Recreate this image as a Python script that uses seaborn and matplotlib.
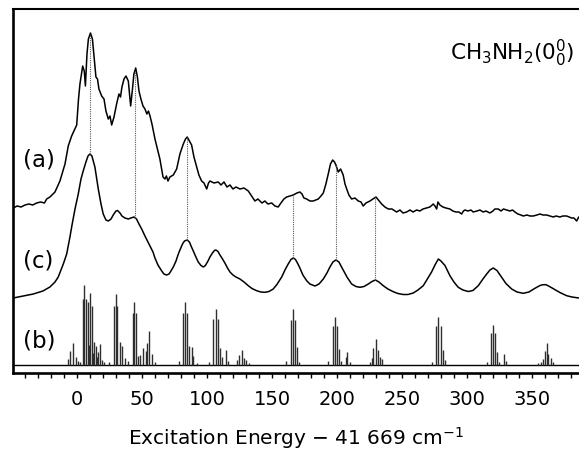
import numpy as np
import pandas as pd
import matplotlib
matplotlib.use('Agg')
import matplotlib.pyplot as plt
import seaborn as sns
from matplotlib.ticker import MultipleLocator

# (a) measured excitation spectrum: (energy offset, intensity)
trace_a = [(-49, 13), (-46, 15), (-43, 14), (-40, 16), (-37, 17), (-34, 16), (-31, 18),
           (-28, 19), (-25, 18), (-23.3, 22), (-20.8, 24), (-16.9, 29), (-13.1, 40),
           (-9.2, 57), (-6.7, 75), (-4.1, 85), (-0.2, 96), (1.2, 122), (2.3, 137),
           (4.4, 155), (5.6, 150), (6.5, 135), (7.7, 167), (8.8, 182), (10.4, 188),
           (11.9, 182), (13.5, 160), (14.6, 144), (15.8, 142), (16.9, 132), (19, 125),
           (20.8, 122), (22.3, 110), (24.1, 102), (25.4, 105), (26.7, 96), (28.5, 104),
           (30.5, 117), (32.3, 127), (33.5, 124), (34.6, 134), (36.2, 142), (37.7, 145),
           (39.5, 140), (41.3, 115), (42.7, 132), (43.8, 147), (45.2, 153), (46.5, 144),
           (47.7, 130), (49.2, 122), (50.8, 115), (52.3, 112), (53.8, 107), (55, 110),
           (56.2, 105), (57.7, 97), (60, 82), (62.3, 70), (63.8, 62), (66.2, 44),
           (67.7, 42), (68.8, 45), (70, 40), (71.5, 44), (74.1, 46), (76.7, 52),
           (79.2, 67), (81.8, 77), (83.5, 82), (84.8, 84), (86.5, 80), (88.2, 76),
           (90, 64), (92.1, 54), (93.8, 46), (95.9, 40), (97.7, 38), (99.8, 32),
           (101.2, 38), (102.3, 40), (105.4, 38), (108.7, 39), (110.8, 36), (113.1, 39),
           (115.4, 34), (117.7, 36), (120, 32), (122.3, 34), (125.4, 32), (128.5, 33),
           (131.8, 30), (133.8, 26), (136.9, 20), (139.2, 22), (142.3, 18), (144.6, 20),
           (146.9, 17), (149.8, 18), (152.3, 15), (154.8, 14), (156.9, 18), (159.2, 22),
           (161.3, 24), (163.8, 25), (166.4, 26), (169.2, 28), (171.5, 29), (173.1, 27),
           (174.6, 23), (176.7, 22), (179.2, 20), (181.8, 20), (183.8, 21), (185.6, 22),
           (187.7, 25), (189.5, 28), (191.5, 37), (193.3, 47), (195, 57), (196.7, 61),
           (198.1, 59), (199.2, 56), (201, 49), (202.8, 52), (204.8, 46), (206.2, 37),
           (207.5, 32), (209.2, 26), (211.3, 22), (213.8, 23), (216.4, 20), (218.5, 19),
           (220.2, 15), (222.3, 18), (225.4, 20), (227.7, 22), (230, 24), (231.9, 21),
           (234.4, 17), (236.9, 14), (239.5, 12), (242.3, 12), (245.9, 9), (248.5, 11),
           (250.8, 8), (253.6, 9), (256.2, 11), (258.5, 9), (261.3, 11), (263.8, 10),
           (266.2, 12), (269, 13), (271.5, 14), (274.1, 17), (275.4, 15), (276.7, 12),
           (277.7, 19), (279.2, 16), (281.5, 14), (283.8, 13), (286.9, 12), (289.2, 10),
           (291.5, 9), (293.8, 9), (295.9, 7), (297.3, 10), (298.5, 11), (300.8, 10),
           (303.1, 11), (304.8, 9), (307.7, 10), (310, 11), (312.5, 9), (314.6, 10),
           (317.7, 8), (320, 10), (321.5, 12), (324.1, 12), (326.2, 10), (328.1, 12),
           (330.5, 11), (333.1, 10), (335, 11), (336.9, 9), (339.2, 7), (341.5, 6),
           (343.3, 5), (346.2, 6), (348.5, 5), (351, 5), (353.8, 6), (356.2, 7),
           (358.5, 6), (361.3, 6), (363.8, 5), (366.4, 4), (368.5, 5), (371.5, 4),
           (373.8, 5), (376.7, 5), (378.5, 4), (380.5, 3), (382.3, 3), (384.4, 0),
           (386, 4)]

# (c) simulated (convoluted) spectrum
trace_c = [(-49, 1), (-41.5, 3), (-33.6, 5), (-26.2, 8), (-20.8, 12), (-16.9, 17),
           (-14.4, 22), (-10.5, 35), (-7.9, 45), (-5.4, 62), (-3.8, 74), (-1.5, 90),
           (1, 105), (3.1, 120), (4.8, 128), (6.9, 137), (8.5, 143), (10, 145),
           (11.5, 143), (13.8, 132), (16.4, 110), (18.5, 95), (20.2, 85), (22.3, 79),
           (24.1, 78), (26.2, 80), (27.9, 84), (30, 88), (31.2, 88.5), (33.1, 86),
           (34.6, 83), (36.9, 81), (39.5, 80), (41.5, 81), (43.8, 82), (45.8, 80),
           (47.7, 75), (49.8, 70), (52.3, 63), (54.6, 57), (56.2, 53), (58.5, 47),
           (60, 41), (62.3, 34), (65.2, 28), (66.9, 25), (69, 24), (70.8, 25),
           (72.3, 28), (74.1, 32), (76.2, 38), (77.7, 44), (79.2, 49), (81.2, 55),
           (82.7, 58), (84.8, 59), (86.5, 57), (88.1, 52), (89.5, 48), (91.5, 42),
           (93.3, 37), (95.4, 33.5), (97.2, 32), (98.8, 33.5), (100.8, 38), (102.3, 42),
           (104.2, 46), (105.8, 48.5), (106.9, 49), (108.5, 47.5), (110, 44), (111.5, 41),
           (113.8, 36), (115.8, 31), (117.7, 27), (120, 24), (122.3, 22), (125.4, 20),
           (128.5, 17), (131.8, 13.3), (134.6, 10.5), (138.2, 8.3), (141.5, 7),
           (144.6, 6.7), (147.7, 7.5), (151, 10), (153.8, 14.5), (157.5, 22), (160, 29),
           (162.5, 35), (164.6, 39.5), (166.4, 41), (168.1, 39.5), (170, 35), (171.5, 31),
           (173.8, 24), (176.7, 18.3), (179.2, 15), (183.1, 13), (186.2, 15), (189.5, 20),
           (192.3, 26), (194.6, 32), (196.9, 37), (199.2, 39), (201.5, 37), (204.8, 29),
           (207.7, 22), (211.3, 15), (214.6, 12.5), (217.7, 11.7), (220.8, 12.5),
           (224.1, 15), (227, 17.5), (229.6, 19), (232.3, 17), (235.6, 13.3), (239.2, 10),
           (243.3, 7.3), (246.9, 5.5), (251, 4.5), (254.6, 4.5), (258.7, 6), (262.3, 9),
           (266.4, 13.3), (270, 21), (272.8, 27), (275.4, 34), (278, 40), (280, 38),
           (283.1, 33.5), (286.9, 23.3), (290, 17), (293.3, 11.7), (296.9, 9), (301, 7.5),
           (304.6, 8.5), (308.7, 13.3), (312.3, 20), (315.2, 25), (317.7, 29), (320.2, 31),
           (323.1, 28.5), (326.7, 21.7), (330, 15.5), (334.4, 10), (338.5, 7), (343.3, 5.7),
           (347.7, 7), (352.3, 10.7), (356.2, 13.5), (358.5, 14.3), (360.8, 14.3),
           (363.5, 12.5), (367.7, 9.3), (371.5, 6.5), (376.7, 3.3), (380.8, 2), (386, 1)]

# (b) calculated stick spectrum: (position, intensity)
sticks_b = [(-6.7, 6), (-5, 14), (-2.8, 22), (-0.8, 8), (1, 4), (2.5, 3),
            (4.4, 66), (5.6, 80), (6.9, 66), (8.5, 63), (9.2, 20), (10, 72), (11.8, 59),
            (12.4, 12), (13, 23), (14.6, 19), (15.5, 8), (16.4, 13), (17.7, 21), (19.5, 5),
            (21, 3),
            (25, 3), (28.5, 59), (29.7, 71), (31, 59), (33, 23), (35, 19), (37, 7), (39.5, 4),
            (42.8, 52), (44, 63), (45.4, 52), (47, 9), (48.5, 10), (51, 17), (52.8, 14),
            (54, 22), (55.4, 34), (58, 11), (60, 3),
            (78.5, 4), (81.8, 52), (83.3, 63), (84.9, 52), (86.4, 19), (88.2, 18), (89.5, 9),
            (92, 2),
            (101.5, 3), (104.9, 46), (106.6, 56), (108.2, 46), (110, 17), (111.5, 8),
            (114.6, 15), (116.5, 4), (122.8, 5), (124.9, 10), (126.7, 15), (128.5, 7),
            (130, 5), (132, 2),
            (160.8, 4), (164.4, 45), (165.9, 56), (167.6, 45), (169.3, 18), (171, 3),
            (193.3, 4), (196.7, 39), (198.2, 48), (199.7, 39), (201.8, 16), (203.5, 4),
            (206.9, 8), (208, 13), (210, 3),
            (225.4, 3), (226.7, 7), (228, 17), (229.7, 26), (231.3, 15), (233, 8), (234.8, 6),
            (272.8, 3), (276.2, 39), (278, 48), (279.7, 39), (281.3, 15), (283, 5),
            (315.5, 3), (318.2, 32), (319.7, 40), (321.5, 32), (323.3, 13), (325, 3),
            (328.5, 11), (330, 4),
            (355, 2), (356.7, 3), (358.7, 6), (360, 14), (361.3, 22), (362.6, 11),
            (364.4, 7), (366, 3)]

# band positions linked between (a) and (c)
dotted_x = [10, 44.5, 85, 166, 199, 229.5]
major_ticks = [0, 50, 100, 150, 200, 250, 300, 350]

OFFSET_A = 152
OFFSET_C = 74
OFFSET_B = 8

sns.set_theme(style='white')
plt.rcParams['font.family'] = ['DejaVu Sans']
plt.rcParams['mathtext.fontset'] = 'dejavusans'
plt.rcParams['text.color'] = 'black'
plt.rcParams['xtick.color'] = 'black'
plt.rcParams['axes.labelcolor'] = 'black'

df_a = pd.DataFrame(trace_a, columns=['energy', 'intensity'])
df_c = pd.DataFrame(trace_c, columns=['energy', 'intensity'])
df_b = pd.DataFrame(sticks_b, columns=['energy', 'intensity'])
df_a['y'] = df_a['intensity'] + OFFSET_A
df_c['y'] = df_c['intensity'] + OFFSET_C

fig = plt.figure(figsize=(5.79, 4.52), dpi=100)
ax = fig.add_axes([13 / 579, 1 - 374 / 452, 566 / 579, 364 / 452])

sns.lineplot(data=df_a, x='energy', y='y', ax=ax, color='black', lw=1.1,
             estimator=None, sort=False)
sns.lineplot(data=df_c, x='energy', y='y', ax=ax, color='black', lw=1.1,
             estimator=None, sort=False)

ax.axhline(OFFSET_B, color='black', lw=1.0)
ax.vlines(df_b['energy'], OFFSET_B, OFFSET_B + df_b['intensity'], colors='#2e2e2e', lw=1.0)

top = np.interp(dotted_x, df_a['energy'], df_a['y'])
bottom = np.interp(dotted_x, df_c['energy'], df_c['y'])
ax.vlines(dotted_x, bottom, top, colors='0.35', linestyles=(0, (1, 1)), lw=0.8)

ax.text(-41.5, 207, '(a)', fontsize=16.5, va='baseline', ha='left')
ax.text(-41.5, 106, '(c)', fontsize=16.5, va='baseline', ha='left')
ax.text(-41.5, 26, '(b)', fontsize=16.5, va='baseline', ha='left')
ax.text(383, 314, r'CH$_3$NH$_2$(0$_0^0$)', fontsize=15.5, va='baseline', ha='right')

ax.set_xlim(-49.2, 386.2)
ax.set_ylim(0, 364)
ax.set_xticks(major_ticks)
ax.xaxis.set_minor_locator(MultipleLocator(10))
ax.set_yticks([])
ax.tick_params(axis='x', which='both', direction='out', length=3.8, width=1.0,
               color='black', bottom=True, labelsize=14, pad=8)
ax.set_xlabel('Excitation Energy \u2212 41 669 cm$^{-1}$', fontsize=14.5, labelpad=11)
ax.set_ylabel('')

for side in ['left', 'bottom']:
    ax.spines[side].set_linewidth(1.9)
    ax.spines[side].set_color('black')
ax.spines['top'].set_linewidth(1.5)
ax.spines['top'].set_color('black')
ax.spines['right'].set_visible(False)

fig.savefig('out.png', dpi=100)
